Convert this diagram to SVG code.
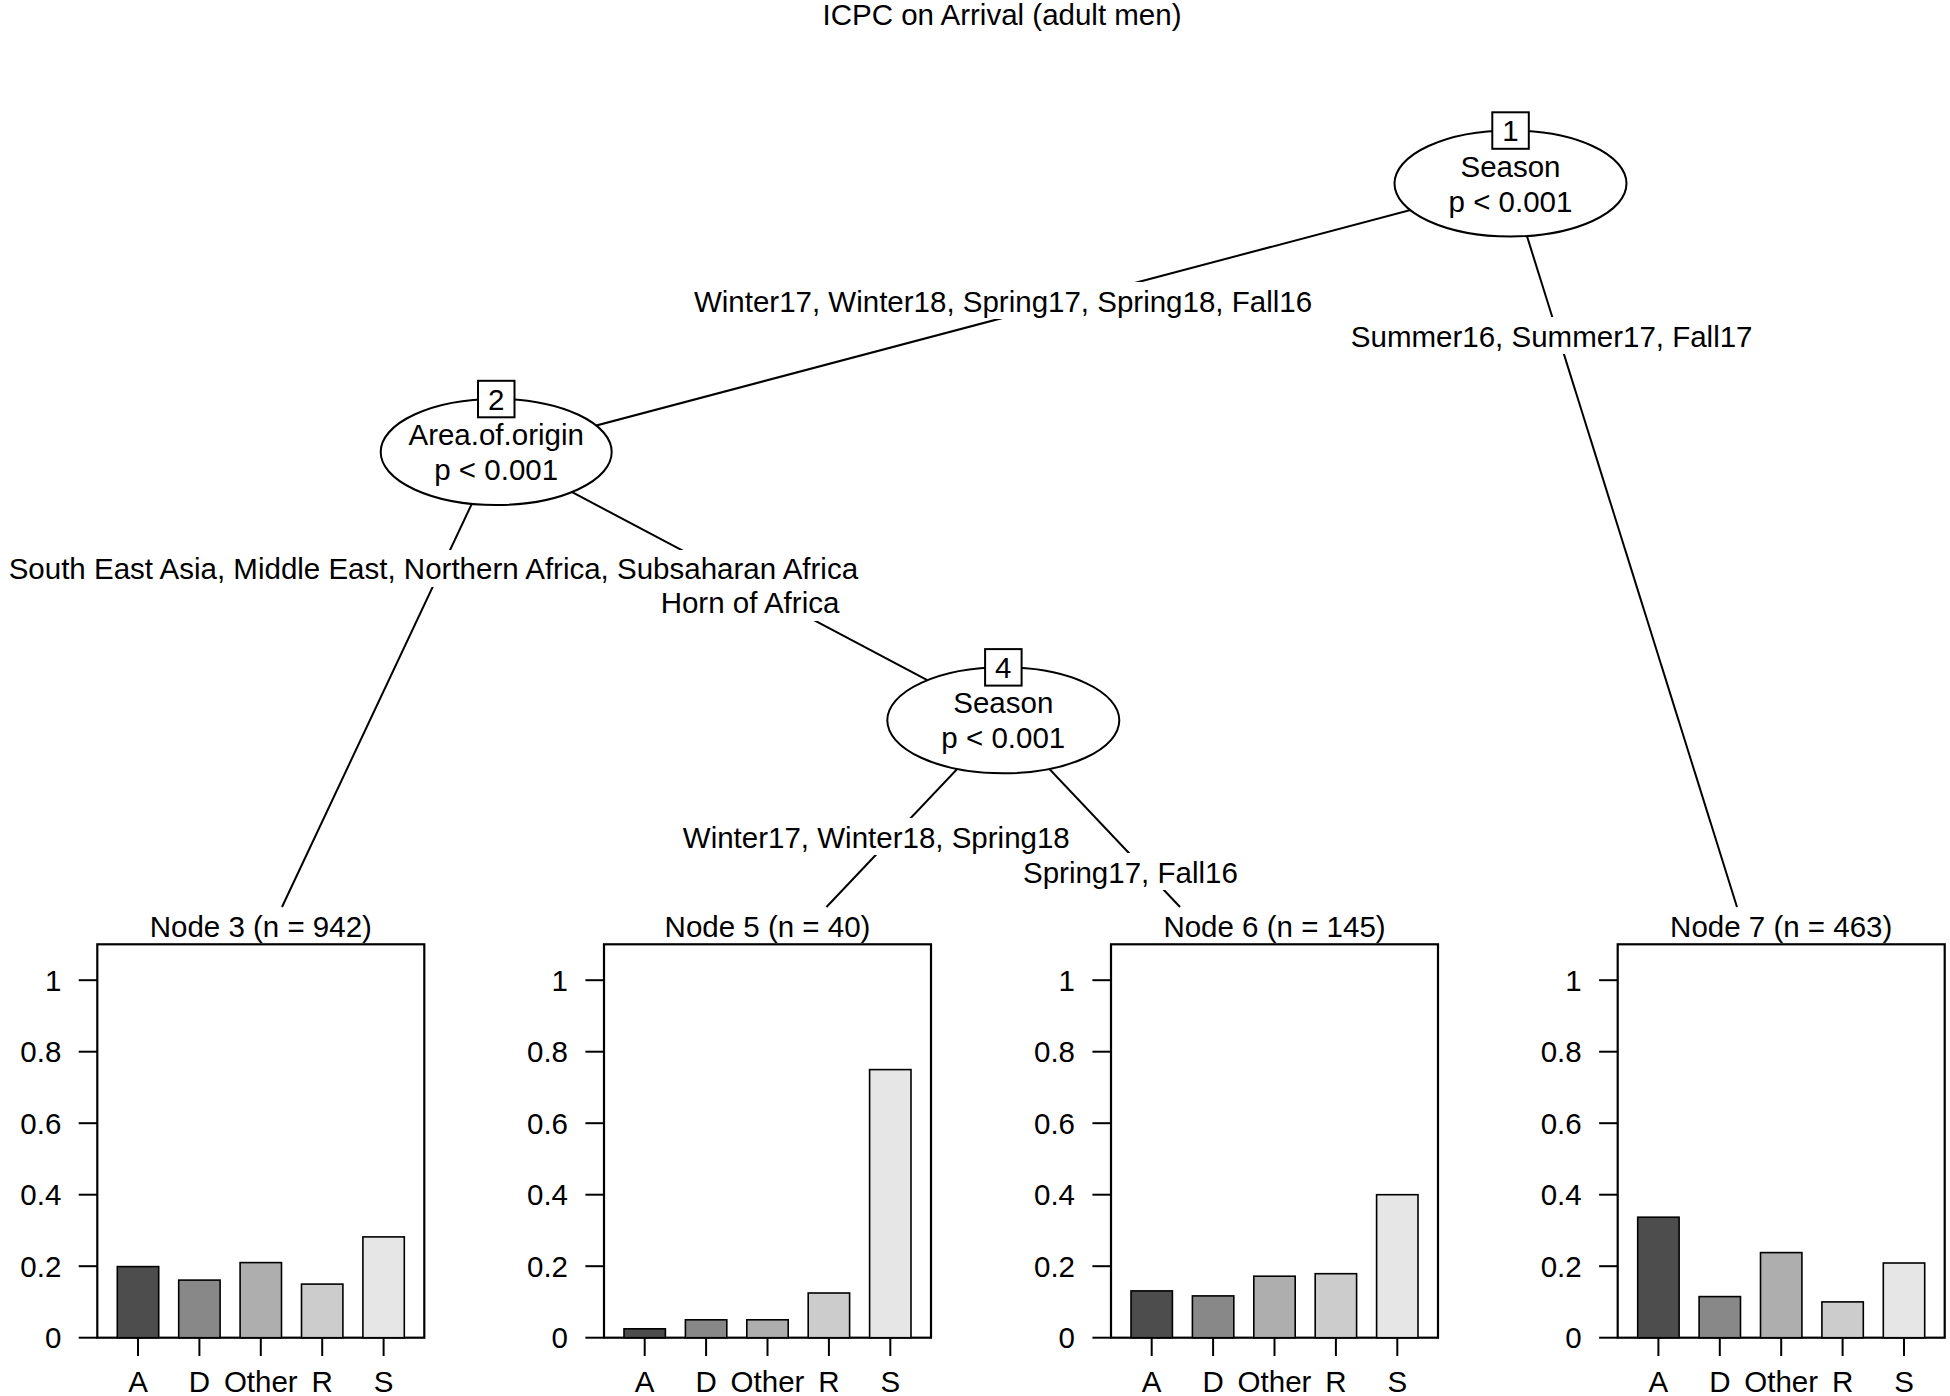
<svg xmlns="http://www.w3.org/2000/svg" width="1950" height="1396" viewBox="0 0 1950 1396">
<style>
text{font-family:"Liberation Sans",Arial,Helvetica,sans-serif;font-size:29.5px;fill:#000}
.c{text-anchor:middle}
.e{text-anchor:end}
.ln{stroke:#000;stroke-width:2;fill:none}
.ell{fill:#fff;stroke:#000;stroke-width:2}
.idb{fill:#fff;stroke:#000;stroke-width:2}
.lb{fill:#fff;stroke:none}
.frame{fill:#fff;stroke:#000;stroke-width:2.2}
.tk{stroke:#000;stroke-width:2}
.bar{stroke:#000;stroke-width:1.6}
.gA{fill:#4d4d4d}.gD{fill:#888888}.gO{fill:#aeaeae}.gR{fill:#cccccc}.gS{fill:#e6e6e6}
</style>
<rect width="1950" height="1396" fill="#fff"/>
<text class="c" x="1002" y="25">ICPC on Arrival (adult men)</text>

<g id="connectors">
<line class="ln" x1="1510.5" y1="183.5" x2="496.2" y2="452"/>
<line class="ln" x1="1510.5" y1="183.5" x2="1737" y2="907"/>
<line class="ln" x1="496.2" y1="452" x2="282" y2="907"/>
<line class="ln" x1="496.2" y1="452" x2="1003.3" y2="720.3"/>
<line class="ln" x1="1003.3" y1="720.3" x2="826.5" y2="907"/>
<line class="ln" x1="1003.3" y1="720.3" x2="1180" y2="907"/>
<g id="edge-labels">
<rect class="lb" x="688" y="282" width="630" height="37"/>
<rect class="lb" x="1348" y="317" width="407" height="37"/>
<rect class="lb" x="0" y="550" width="869" height="37"/>
<rect class="lb" x="656" y="585" width="188" height="36"/>
<rect class="lb" x="679" y="818" width="395" height="37"/>
<rect class="lb" x="1021" y="853" width="219" height="37"/>
<text class="c" x="1003" y="311.7">Winter17, Winter18, Spring17, Spring18, Fall16</text>
<text class="c" x="1551.7" y="346.7">Summer16, Summer17, Fall17</text>
<text class="c" x="433.4" y="579">South East Asia, Middle East, Northern Africa, Subsaharan Africa</text>
<text class="c" x="750" y="613.3">Horn of Africa</text>
<text class="c" x="876.3" y="848.3">Winter17, Winter18, Spring18</text>
<text class="c" x="1130.4" y="883.3">Spring17, Fall16</text>
</g>
</g>

<g id="node1">
<ellipse class="ell" cx="1510.5" cy="183.5" rx="116" ry="53"/>
<rect class="idb" x="1492.3" y="112.3" width="36.5" height="36.5"/>
<text class="c" x="1510.5" y="141">1</text>
<text class="c" x="1510.5" y="176.5">Season</text>
<text class="c" x="1510.5" y="211.5">p &lt; 0.001</text>
</g>

<g id="node2">
<ellipse class="ell" cx="496.2" cy="452" rx="115.5" ry="53"/>
<rect class="idb" x="478" y="380.8" width="36.5" height="36.5"/>
<text class="c" x="496.2" y="409.5">2</text>
<text class="c" x="496.2" y="445">Area.of.origin</text>
<text class="c" x="496.2" y="480">p &lt; 0.001</text>
</g>

<g id="node4">
<ellipse class="ell" cx="1003.3" cy="720.3" rx="116" ry="53"/>
<rect class="idb" x="985.1" y="649.1" width="36.5" height="36.5"/>
<text class="c" x="1003.3" y="677.8">4</text>
<text class="c" x="1003.3" y="713.3">Season</text>
<text class="c" x="1003.3" y="748.3">p &lt; 0.001</text>
</g>

<g id="node3" transform="translate(97.3,0)">
<text class="c" x="163.5" y="936.7">Node 3 (n = 942)</text>
<rect class="frame" x="0" y="944.3" width="327" height="393.4"/>
<g class="tk"><line x1="-18.6" y1="1337.7" x2="0" y2="1337.7"/><line x1="-18.6" y1="1266.2" x2="0" y2="1266.2"/><line x1="-18.6" y1="1194.7" x2="0" y2="1194.7"/><line x1="-18.6" y1="1123.2" x2="0" y2="1123.2"/><line x1="-18.6" y1="1051.7" x2="0" y2="1051.7"/><line x1="-18.6" y1="980.2" x2="0" y2="980.2"/>
<line x1="40.7" y1="1337.7" x2="40.7" y2="1356"/><line x1="102.1" y1="1337.7" x2="102.1" y2="1356"/><line x1="163.5" y1="1337.7" x2="163.5" y2="1356"/><line x1="224.9" y1="1337.7" x2="224.9" y2="1356"/><line x1="286.3" y1="1337.7" x2="286.3" y2="1356"/></g>
<text class="e" x="-36" y="1348.2">0</text><text class="e" x="-36" y="1276.7">0.2</text><text class="e" x="-36" y="1205.2">0.4</text><text class="e" x="-36" y="1133.7">0.6</text><text class="e" x="-36" y="1062.2">0.8</text><text class="e" x="-36" y="990.7">1</text>
<rect class="bar gA" x="20" y="1266.6" width="41.4" height="71.1"/>
<rect class="bar gD" x="81.4" y="1280.1" width="41.4" height="57.6"/>
<rect class="bar gO" x="142.8" y="1262.6" width="41.4" height="75.1"/>
<rect class="bar gR" x="204.2" y="1284.1" width="41.4" height="53.6"/>
<rect class="bar gS" x="265.6" y="1236.9" width="41.4" height="100.8"/>
<text class="c" x="40.7" y="1392">A</text><text class="c" x="102.1" y="1392">D</text><text class="c" x="163.5" y="1392">Other</text><text class="c" x="224.9" y="1392">R</text><text class="c" x="286.3" y="1392">S</text>
</g>

<g id="node5" transform="translate(604,0)">
<text class="c" x="163.5" y="936.7">Node 5 (n = 40)</text>
<rect class="frame" x="0" y="944.3" width="327" height="393.4"/>
<g class="tk"><line x1="-18.6" y1="1337.7" x2="0" y2="1337.7"/><line x1="-18.6" y1="1266.2" x2="0" y2="1266.2"/><line x1="-18.6" y1="1194.7" x2="0" y2="1194.7"/><line x1="-18.6" y1="1123.2" x2="0" y2="1123.2"/><line x1="-18.6" y1="1051.7" x2="0" y2="1051.7"/><line x1="-18.6" y1="980.2" x2="0" y2="980.2"/>
<line x1="40.7" y1="1337.7" x2="40.7" y2="1356"/><line x1="102.1" y1="1337.7" x2="102.1" y2="1356"/><line x1="163.5" y1="1337.7" x2="163.5" y2="1356"/><line x1="224.9" y1="1337.7" x2="224.9" y2="1356"/><line x1="286.3" y1="1337.7" x2="286.3" y2="1356"/></g>
<text class="e" x="-36" y="1348.2">0</text><text class="e" x="-36" y="1276.7">0.2</text><text class="e" x="-36" y="1205.2">0.4</text><text class="e" x="-36" y="1133.7">0.6</text><text class="e" x="-36" y="1062.2">0.8</text><text class="e" x="-36" y="990.7">1</text>
<rect class="bar gA" x="20" y="1328.8" width="41.4" height="8.9"/>
<rect class="bar gD" x="81.4" y="1319.8" width="41.4" height="17.9"/>
<rect class="bar gO" x="142.8" y="1319.8" width="41.4" height="17.9"/>
<rect class="bar gR" x="204.2" y="1293" width="41.4" height="44.7"/>
<rect class="bar gS" x="265.6" y="1069.6" width="41.4" height="268.1"/>
<text class="c" x="40.7" y="1392">A</text><text class="c" x="102.1" y="1392">D</text><text class="c" x="163.5" y="1392">Other</text><text class="c" x="224.9" y="1392">R</text><text class="c" x="286.3" y="1392">S</text>
</g>

<g id="node6" transform="translate(1111,0)">
<text class="c" x="163.5" y="936.7">Node 6 (n = 145)</text>
<rect class="frame" x="0" y="944.3" width="327" height="393.4"/>
<g class="tk"><line x1="-18.6" y1="1337.7" x2="0" y2="1337.7"/><line x1="-18.6" y1="1266.2" x2="0" y2="1266.2"/><line x1="-18.6" y1="1194.7" x2="0" y2="1194.7"/><line x1="-18.6" y1="1123.2" x2="0" y2="1123.2"/><line x1="-18.6" y1="1051.7" x2="0" y2="1051.7"/><line x1="-18.6" y1="980.2" x2="0" y2="980.2"/>
<line x1="40.7" y1="1337.7" x2="40.7" y2="1356"/><line x1="102.1" y1="1337.7" x2="102.1" y2="1356"/><line x1="163.5" y1="1337.7" x2="163.5" y2="1356"/><line x1="224.9" y1="1337.7" x2="224.9" y2="1356"/><line x1="286.3" y1="1337.7" x2="286.3" y2="1356"/></g>
<text class="e" x="-36" y="1348.2">0</text><text class="e" x="-36" y="1276.7">0.2</text><text class="e" x="-36" y="1205.2">0.4</text><text class="e" x="-36" y="1133.7">0.6</text><text class="e" x="-36" y="1062.2">0.8</text><text class="e" x="-36" y="990.7">1</text>
<rect class="bar gA" x="20" y="1290.9" width="41.4" height="46.8"/>
<rect class="bar gD" x="81.4" y="1295.9" width="41.4" height="41.8"/>
<rect class="bar gO" x="142.8" y="1276.2" width="41.4" height="61.5"/>
<rect class="bar gR" x="204.2" y="1273.7" width="41.4" height="64"/>
<rect class="bar gS" x="265.6" y="1194.7" width="41.4" height="143"/>
<text class="c" x="40.7" y="1392">A</text><text class="c" x="102.1" y="1392">D</text><text class="c" x="163.5" y="1392">Other</text><text class="c" x="224.9" y="1392">R</text><text class="c" x="286.3" y="1392">S</text>
</g>

<g id="node7" transform="translate(1617.7,0)">
<text class="c" x="163.5" y="936.7">Node 7 (n = 463)</text>
<rect class="frame" x="0" y="944.3" width="327" height="393.4"/>
<g class="tk"><line x1="-18.6" y1="1337.7" x2="0" y2="1337.7"/><line x1="-18.6" y1="1266.2" x2="0" y2="1266.2"/><line x1="-18.6" y1="1194.7" x2="0" y2="1194.7"/><line x1="-18.6" y1="1123.2" x2="0" y2="1123.2"/><line x1="-18.6" y1="1051.7" x2="0" y2="1051.7"/><line x1="-18.6" y1="980.2" x2="0" y2="980.2"/>
<line x1="40.7" y1="1337.7" x2="40.7" y2="1356"/><line x1="102.1" y1="1337.7" x2="102.1" y2="1356"/><line x1="163.5" y1="1337.7" x2="163.5" y2="1356"/><line x1="224.9" y1="1337.7" x2="224.9" y2="1356"/><line x1="286.3" y1="1337.7" x2="286.3" y2="1356"/></g>
<text class="e" x="-36" y="1348.2">0</text><text class="e" x="-36" y="1276.7">0.2</text><text class="e" x="-36" y="1205.2">0.4</text><text class="e" x="-36" y="1133.7">0.6</text><text class="e" x="-36" y="1062.2">0.8</text><text class="e" x="-36" y="990.7">1</text>
<rect class="bar gA" x="20" y="1217.2" width="41.4" height="120.5"/>
<rect class="bar gD" x="81.4" y="1296.6" width="41.4" height="41.1"/>
<rect class="bar gO" x="142.8" y="1252.6" width="41.4" height="85.1"/>
<rect class="bar gR" x="204.2" y="1301.9" width="41.4" height="35.8"/>
<rect class="bar gS" x="265.6" y="1263" width="41.4" height="74.7"/>
<text class="c" x="40.7" y="1392">A</text><text class="c" x="102.1" y="1392">D</text><text class="c" x="163.5" y="1392">Other</text><text class="c" x="224.9" y="1392">R</text><text class="c" x="286.3" y="1392">S</text>
</g>
</svg>
